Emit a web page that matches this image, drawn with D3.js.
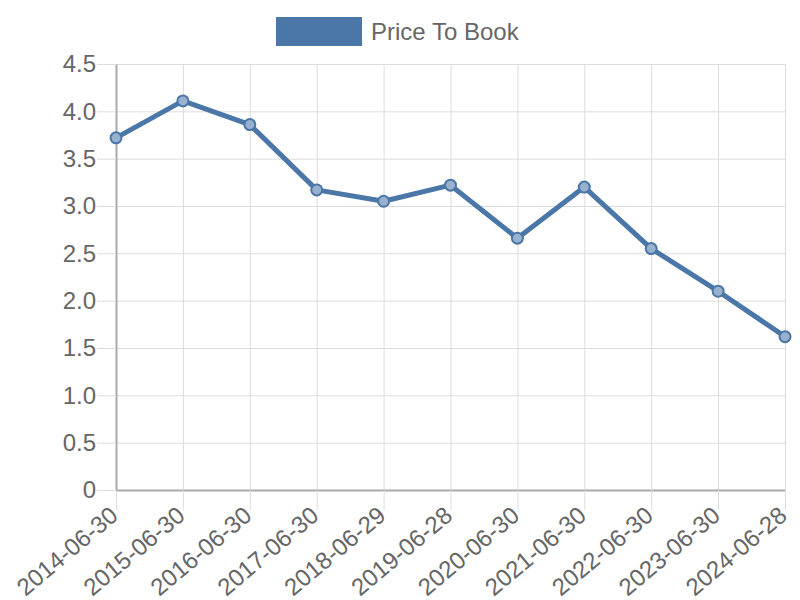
<!DOCTYPE html>
<html>
<head>
<meta charset="utf-8">
<script src="https://cdn.jsdelivr.net/npm/d3@7"></script>
<style>
  body { margin: 0; background: #fff; }
  svg { font-family: "Liberation Sans", Arial, sans-serif; }
</style>
</head>
<body>
<div id="viz"></div>
<script>
// chart data
var dates = ["2014-06-30", "2015-06-30", "2016-06-30", "2017-06-30", "2018-06-29", "2019-06-28",
             "2020-06-30", "2021-06-30", "2022-06-30", "2023-06-30", "2024-06-28"];
var priceToBook = [3.72, 4.11, 3.86, 3.17, 3.05, 3.22, 2.66, 3.20, 2.55, 2.10, 1.62];
var yTicks = [0, 0.5, 1.0, 1.5, 2.0, 2.5, 3.0, 3.5, 4.0, 4.5];
var seriesName = "Price To Book";

var width = 800, height = 600,
    margin = {top: 64, left: 116, right: 15, bottom: 110},
    lineColor = "#4a76a8";

var svg = d3.select("#viz").append("svg")
    .attr("width", width)
    .attr("height", height);

var x = d3.scalePoint()
    .domain(dates)
    .range([margin.left, width - margin.right]);

var y = d3.scaleLinear()
    .domain([0, 4.5])
    .range([height - margin.bottom, margin.top]);

// grid lines
svg.append("g")
    .attr("transform", "translate(0," + (height - margin.bottom) + ")")
    .call(d3.axisBottom(x).tickSize(-(height - margin.bottom - margin.top)).tickFormat(""))
    .call(function (g) {
      g.select(".domain").remove();
      g.selectAll("line").attr("stroke", "#dcdcdc");
    });

svg.append("g")
    .attr("transform", "translate(" + margin.left + ",0)")
    .call(d3.axisLeft(y).tickValues(yTicks).tickSize(-(width - margin.left - margin.right)).tickFormat(""))
    .call(function (g) {
      g.select(".domain").remove();
      g.selectAll("line").attr("stroke", "#dcdcdc");
    });

// x axis
var xAxis = svg.append("g")
    .attr("transform", "translate(0," + (height - margin.bottom) + ")")
    .call(d3.axisBottom(x).tickSize(20).tickSizeOuter(0));
xAxis.select(".domain").attr("stroke", "#aaa").attr("stroke-width", 2);
xAxis.selectAll(".tick line").attr("stroke", "#dcdcdc");
xAxis.selectAll("text")
    .attr("fill", "#666")
    .style("font-size", "24px")
    .attr("text-anchor", "end")
    .attr("dy", null).attr("y", 0)
    .attr("transform", "translate(3,28) rotate(-40)");

// y axis
var yAxis = svg.append("g")
    .attr("transform", "translate(" + margin.left + ",0)")
    .call(d3.axisLeft(y).tickValues(yTicks).tickSize(19).tickSizeOuter(0)
      .tickFormat(function (d) { return d === 0 ? "0" : d3.format(".1f")(d); }));
yAxis.select(".domain").attr("stroke", "#aaa").attr("stroke-width", 2);
yAxis.selectAll(".tick line").attr("stroke", "#dcdcdc");
yAxis.selectAll("text")
    .attr("fill", "#666")
    .style("font-size", "24px")
    .attr("x", -20);

// line
var line = d3.line()
    .x(function (d, i) { return x(dates[i]); })
    .y(function (d) { return y(d); });

svg.append("path")
    .datum(priceToBook)
    .attr("fill", "none")
    .attr("stroke", lineColor)
    .attr("stroke-width", 5)
    .attr("stroke-linejoin", "round")
    .attr("d", line);

svg.selectAll("circle.pt")
    .data(priceToBook)
    .enter().append("circle")
    .attr("class", "pt")
    .attr("cx", function (d, i) { return x(dates[i]); })
    .attr("cy", function (d) { return y(d); })
    .attr("r", 5.5)
    .attr("fill", "#97b1cf")
    .attr("stroke", lineColor)
    .attr("stroke-width", 2);

// legend
var legend = svg.append("g");
legend.append("rect")
    .attr("x", 276).attr("y", 17)
    .attr("width", 86).attr("height", 29)
    .attr("fill", lineColor);
legend.append("text")
    .attr("x", 371).attr("y", 40)
    .attr("fill", "#666")
    .style("font-size", "24px")
    .text(seriesName);
</script>
</body>
</html>
